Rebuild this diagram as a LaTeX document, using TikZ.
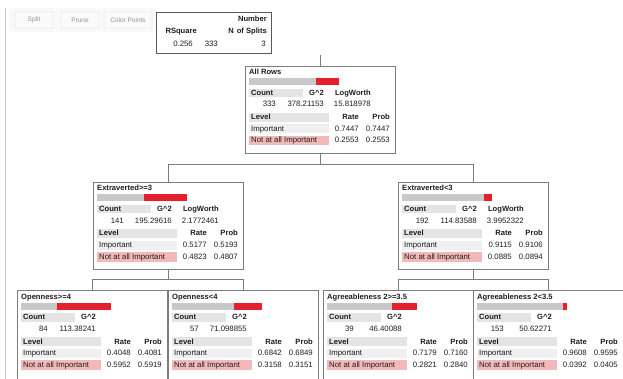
\documentclass[tikz,border=0pt]{standalone}
\usepackage{fontspec}
\setmainfont{Liberation Sans}
\usetikzlibrary{calc}

\definecolor{jmpred}{HTML}{E3202B}
\definecolor{jmppink}{HTML}{F3B9B9}
\definecolor{jmpbar}{HTML}{C9C9C9}
\definecolor{jmprow}{HTML}{E4E4E4}
\definecolor{jmpline}{HTML}{7C7C7C}
\definecolor{jmptext}{HTML}{1E1E1E}

\tikzset{
  txt/.style={font=\fontsize{7.8}{8}\selectfont, text=jmptext, inner sep=0pt},
  hdr/.style={txt, font=\fontsize{7.6}{8}\selectfont\bfseries},
  box/.style={draw=jmpline, line width=0.8pt, fill=white, inner sep=0pt,
    minimum width=150pt, minimum height=87pt},
  leafbox/.style={box, minimum height=100pt},
  link/.style={draw=jmpline, line width=0.8pt},
  btn/.style={draw=gray!30, fill=gray!4, rounded corners=1pt, inner sep=0pt,
    minimum height=16pt, font=\fontsize{6.5}{7}\selectfont, text=gray!85},
}

% box with split title and response bar (grey = Important, red = Not at all Important)
\newcommand\splitbox[6]{% style, name, x, y, title, red fraction
  \node[#1, anchor=north west] (#2) at (#3,#4) {};
  \begin{scope}[shift={(#2.north west)}]
    \node[hdr, anchor=base west] (#2-title) at (4,9) {#5};
    \fill[jmpbar] (4,12.5) rectangle ({4+90*(1-#6)},19.5);
    \fill[jmpred] ({4+90*(1-#6)},12.5) rectangle (94,19.5);
  \end{scope}}

% count and G^2 columns
\newcommand\splitstats[3]{% name, count, G^2
  \begin{scope}[shift={(#1.north west)}]
    \fill[jmprow] (4,23) rectangle (58,31.5);
    \node[hdr, anchor=base west] (#1-ch) at (6,29.5) {Count};
    \node[hdr, anchor=base east] (#1-gh) at (79,29.5) {G\textasciicircum 2};
    \node[txt, anchor=base east] (#1-cv) at (31,41) {#2};
    \node[txt, anchor=base east] (#1-gv) at (79,41) {#3};
  \end{scope}}

% LogWorth column of nodes that are split further
\newcommand\splitworth[2]{% name, LogWorth
  \begin{scope}[shift={(#1.north west)}]
    \node[hdr, anchor=base east] (#1-lh) at (126,29.5) {LogWorth};
    \node[txt, anchor=base east] (#1-lv) at (126,41) {#2};
  \end{scope}}

% level table with rates and probabilities
\newcommand\splitlevels[5]{% name, rate 1, prob 1, rate 2, prob 2
  \begin{scope}[shift={(#1.north west)}]
    \fill[jmprow] (4,47) rectangle (84,56);
    \fill[jmprow!55] (4,58.5) rectangle (84,67.5);
    \fill[jmppink] (4,70) rectangle (84,79.5);
    \node[hdr, anchor=base west] (#1-level) at (6,54) {Level};
    \node[hdr, anchor=base east] (#1-rate) at (114,54) {Rate};
    \node[hdr, anchor=base east] (#1-prob) at (145,54) {Prob};
    \node[txt, anchor=base west] (#1-l1) at (6,65.5) {Important};
    \node[txt, anchor=base east] (#1-r1) at (114,65.5) {#2};
    \node[txt, anchor=base east] (#1-p1) at (145,65.5) {#3};
    \node[txt, anchor=base west] (#1-l2) at (6,77) {Not at all Important};
    \node[txt, anchor=base east] (#1-r2) at (114,77) {#4};
    \node[txt, anchor=base east] (#1-p2) at (145,77) {#5};
  \end{scope}}

\begin{document}
\begin{tikzpicture}[x=1pt, y=-1pt]
\useasboundingbox (0,0) rectangle (623,379);
\fill[white] (0,0) rectangle (623,379);
\clip (0,0) rectangle (623,379);

% window edge
\draw[gray!45, line width=0.6pt] (5,8) -- (5,379);

% toolbar
\fill[gray!5] (9,8) rectangle (155,32);
\node[btn, minimum width=38pt] (split) at (34,20) {Split};
\node[btn, minimum width=38pt] (prune) at (80,20) {Prune};
\node[btn, minimum width=48pt] (color) at (128,20) {Color Points};

% fit summary
\node[draw=gray!70!black, line width=1.2pt, fill=white, minimum width=115pt,
  minimum height=41pt, anchor=north west, inner sep=0pt] (summary) at (156,12) {};
\node[hdr, anchor=base east] (sum-num) at (267,22) {Number};
\node[hdr, anchor=base east] (sum-rsq) at (197,34) {RSquare};
\node[hdr, anchor=base east] (sum-n) at (234,34) {N};
\node[hdr, anchor=base east] (sum-of) at (267,34) {of Splits};
\node[txt, anchor=base east] (sum-rv) at (193,47) {0.256};
\node[txt, anchor=base east] (sum-nv) at (218,47) {333};
\node[txt, anchor=base east] (sum-sv) at (266,47) {3};

% tree nodes
\splitbox{box}{root}{245}{66}{All Rows}{0.2553}
\splitstats{root}{333}{378.21153}
\splitworth{root}{15.818978}
\splitlevels{root}{0.7447}{0.7447}{0.2553}{0.2553}

\splitbox{box}{extA}{93}{182}{Extraverted>=3}{0.4823}
\splitstats{extA}{141}{195.29616}
\splitworth{extA}{2.1772461}
\splitlevels{extA}{0.5177}{0.5193}{0.4823}{0.4807}

\splitbox{box}{extB}{398}{182}{Extraverted<3}{0.0885}
\splitstats{extB}{192}{114.83588}
\splitworth{extB}{3.9952322}
\splitlevels{extB}{0.9115}{0.9106}{0.0885}{0.0894}

\splitbox{leafbox}{openA}{17}{290}{Openness>=4}{0.5952}
\splitstats{openA}{84}{113.38241}
\splitlevels{openA}{0.4048}{0.4081}{0.5952}{0.5919}

\splitbox{leafbox}{openB}{168}{290}{Openness<4}{0.3158}
\splitstats{openB}{57}{71.098855}
\splitlevels{openB}{0.6842}{0.6849}{0.3158}{0.3151}

\splitbox{leafbox}{agrA}{323}{290}{Agreeableness 2>=3.5}{0.2821}
\splitstats{agrA}{39}{46.40088}
\splitlevels{agrA}{0.7179}{0.7160}{0.2821}{0.2840}

\splitbox{leafbox}{agrB}{473}{290}{Agreeableness 2<3.5}{0.0392}
\splitstats{agrB}{153}{50.62271}
\splitlevels{agrB}{0.9608}{0.9595}{0.0392}{0.0405}

% connectors
\coordinate (rootstub) at (root.north |- 0,55);
\draw[link] (rootstub) -- (root.north);
\draw[link] (root.south) -- ++(0,11) -| (extA.north);
\draw[link] (root.south) -- ++(0,11) -| (extB.north);
\draw[link] (extA.south) -- ++(0,10) -| (openA.north);
\draw[link] (extA.south) -- ++(0,10) -| (openB.north);
\draw[link] (extB.south) -- ++(0,10) -| (agrA.north);
\draw[link] (extB.south) -- ++(0,10) -| (agrB.north);
\end{tikzpicture}
\end{document}
